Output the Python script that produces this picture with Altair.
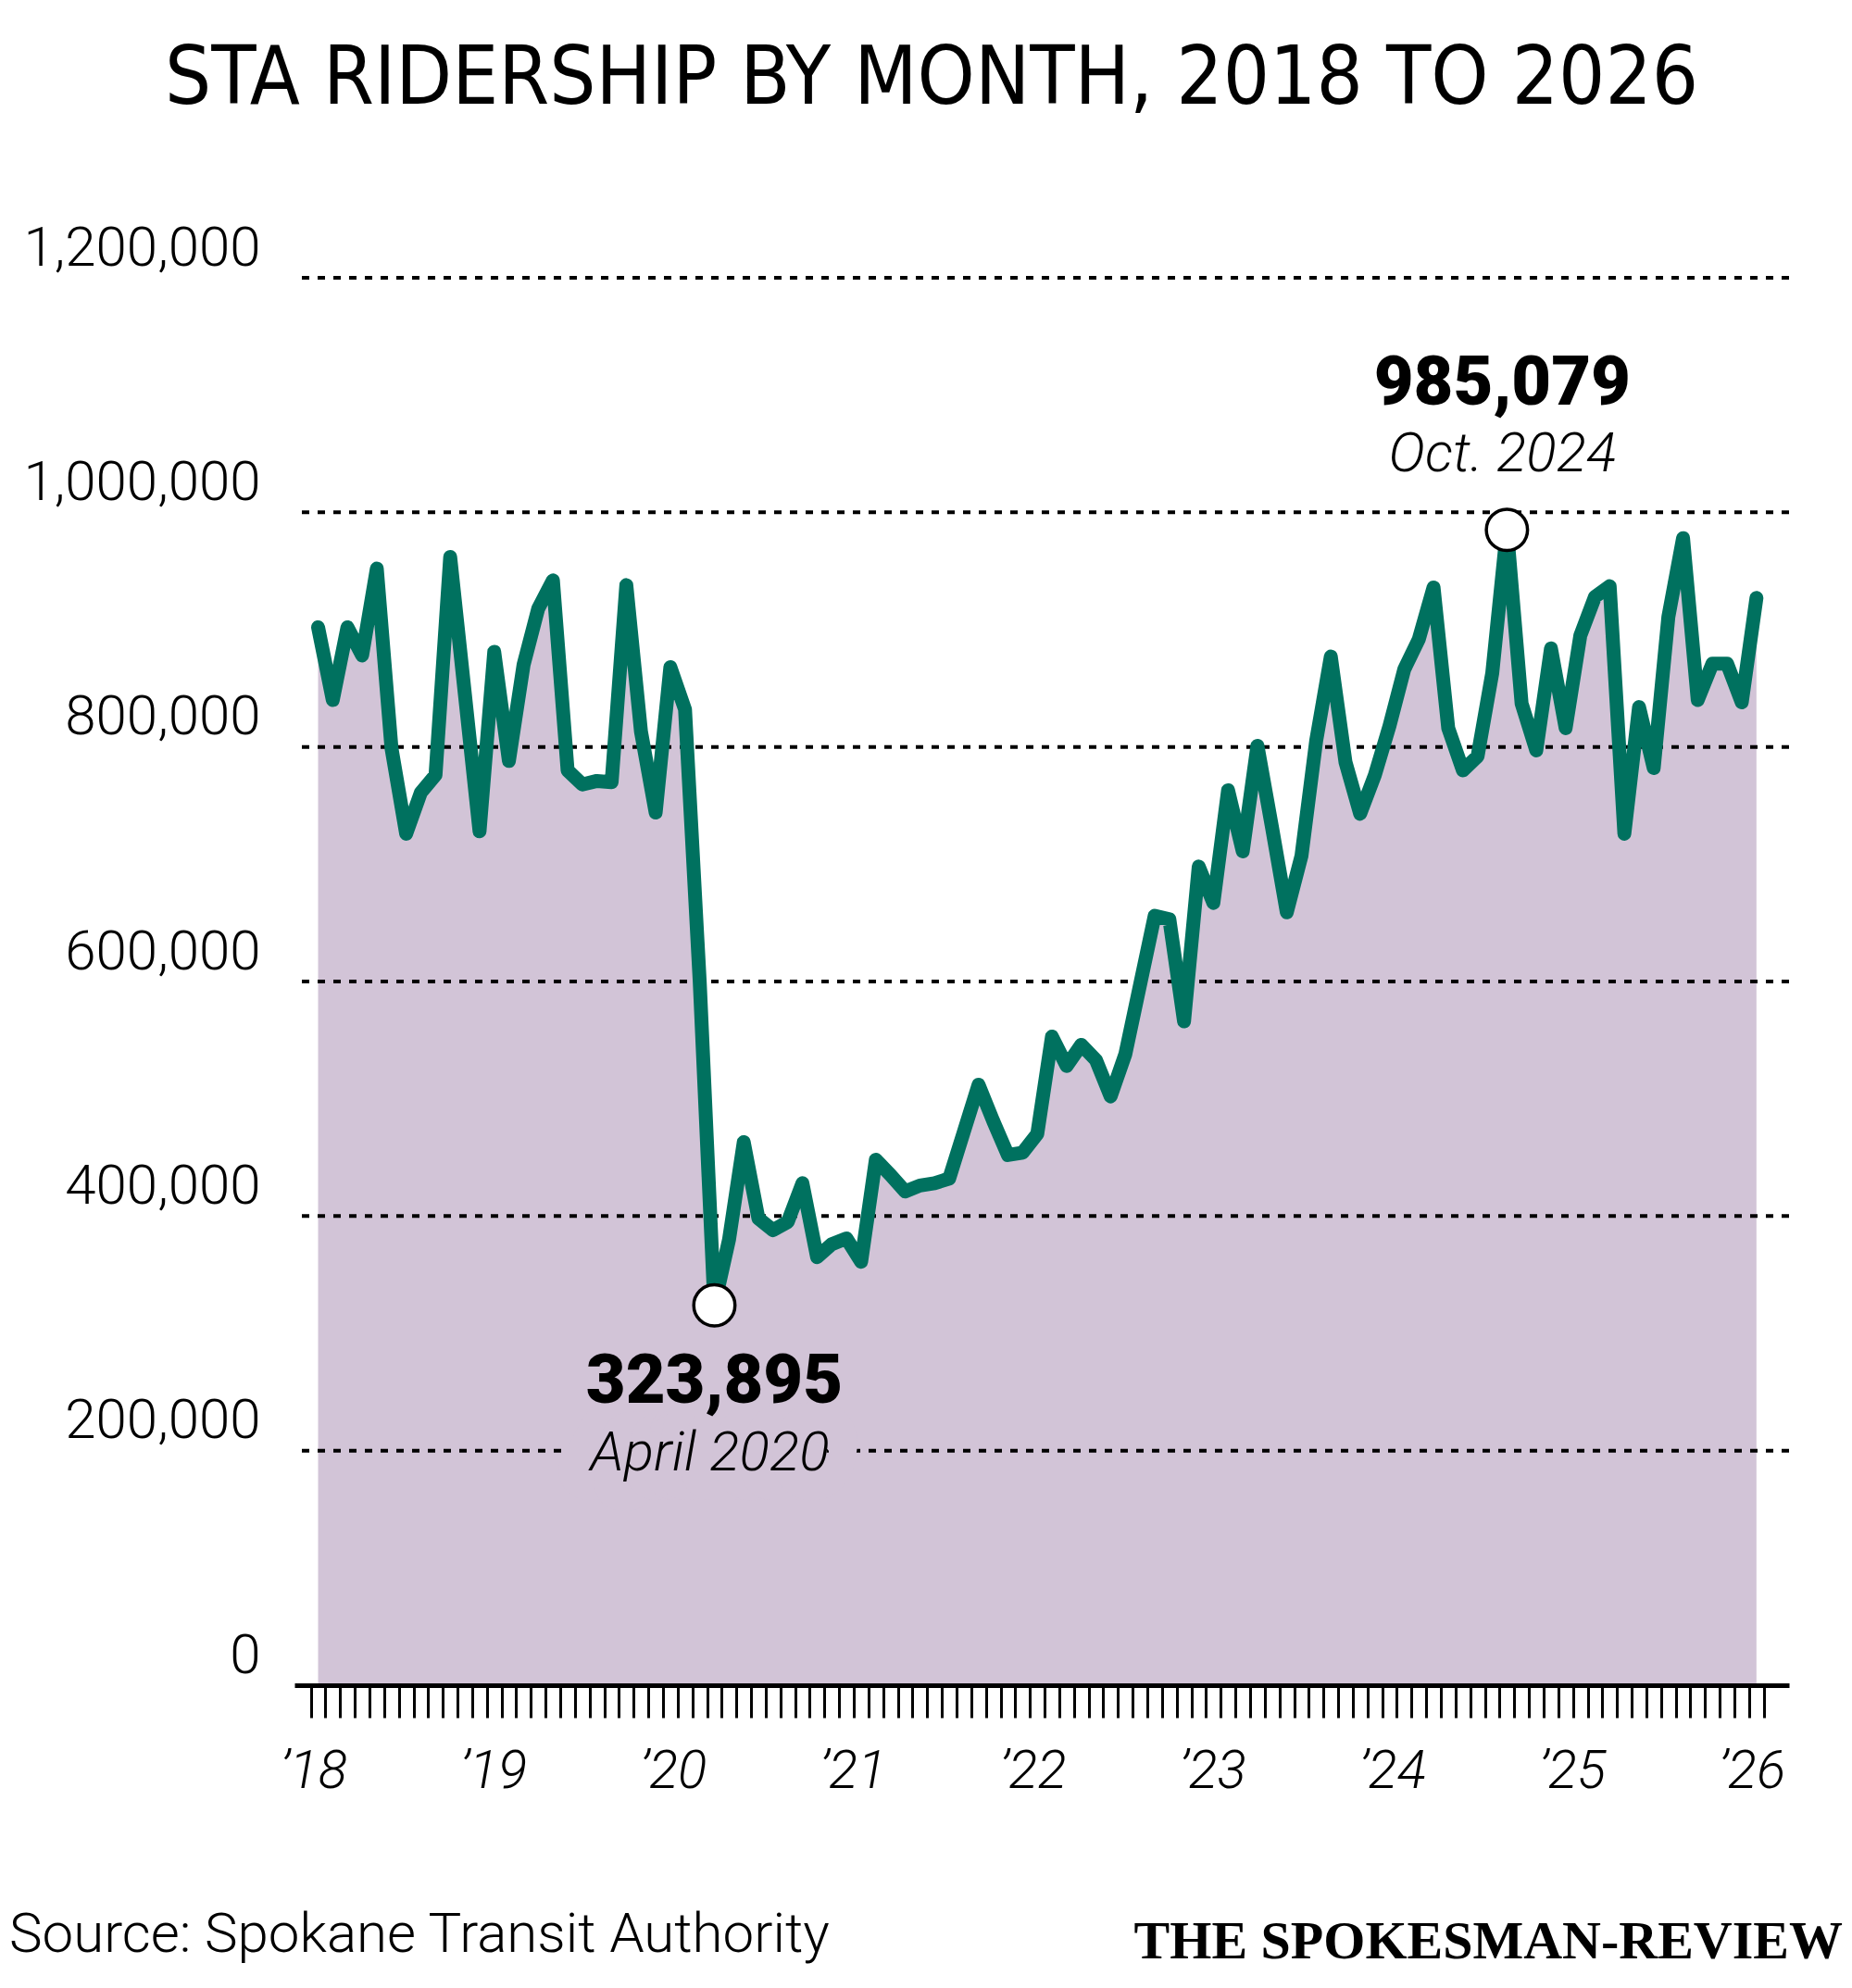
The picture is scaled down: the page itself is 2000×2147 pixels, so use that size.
import altair as alt
import pandas as pd

TITLE = "STA RIDERSHIP BY MONTH, 2018 TO 2026"
SOURCE = "Source: Spokane Transit Authority"
CREDIT = "THE SPOKESMAN-REVIEW"

# Monthly ridership, Jan 2018 (index 0) to Mar 2026
RIDERS = [
    902000, 840000, 902000, 878000, 952000, 799000, 726000, 761000, 776000, 962000, 845000, 728000,
    881000, 788000, 870000, 918000, 942000, 780000, 768000, 771000, 770000, 938000, 813000, 744000,
    868000, 832000, 600000, 323895, 380000, 463000, 398000, 388000, 395000, 428000, 365000, 376000,
    381000, 361000, 448000, 435000, 421000, 426000, 428000, 432000, 472000, 512000, 481000, 452000,
    454000, 470000, 553000, 528000, 546000, 533000, 502000, 538000, 597000, 656000, 653000, 566000,
    698000, 667000, 763000, 711000, 801000, 731000, 659000, 707000, 805000, 877000, 787000, 743000,
    776000, 818000, 866000, 892000, 936000, 816000, 780000, 792000, 863000, 985079, 837000, 797000,
    884000, 816000, 895000, 928000, 937000, 726000, 834000, 782000, 911000, 978000, 840000, 871000,
    871000, 838000, 927000,
]
MONTHS = list(range(len(RIDERS)))

Y_TICKS = [0, 200000, 400000, 600000, 800000, 1000000, 1200000]
GRID = [200000, 400000, 600000, 800000, 1000000, 1200000]
YEAR_LABELS = ["\u201918", "\u201919", "\u201920", "\u201921", "\u201922",
               "\u201923", "\u201924", "\u201925", "\u201926"]

LOW_MONTH, LOW_VALUE, LOW_TEXT, LOW_WHEN = 27, 323895, "323,895", "April 2020"
HIGH_MONTH, HIGH_VALUE, HIGH_TEXT, HIGH_WHEN = 81, 985079, "985,079", "Oct. 2024"

FILL = "#D2C4D7"
LINE = "#00715F"
W, H = 1614, 1520

df = pd.DataFrame({"m": MONTHS, "riders": RIDERS})
grid_df = pd.DataFrame({"g": GRID})
year_df = pd.DataFrame({"lab": YEAR_LABELS,
                        "pos": [k * 12.25 - 0.3 for k in range(len(YEAR_LABELS))]})
low_df = pd.DataFrame({"m": [LOW_MONTH], "riders": [LOW_VALUE],
                       "num": [LOW_TEXT], "when": [LOW_WHEN]})
high_df = pd.DataFrame({"m": [HIGH_MONTH], "riders": [HIGH_VALUE],
                        "num": [HIGH_TEXT], "when": [HIGH_WHEN]})
pts_df = pd.concat([low_df, high_df])

xs = alt.Scale(domain=[-1.61, 100.22], nice=False, zero=False)
ys = alt.Scale(domain=[0, 1200000], nice=False)
tick_vals = [m - 0.5 for m in range(len(RIDERS) + 1)]

XAXIS = alt.Axis(values=tick_vals, labels=False, grid=False, title=None,
                 tickSize=35, tickWidth=3, tickColor="black",
                 domainColor="black", domainWidth=5, zindex=1)
YAXIS = alt.Axis(values=Y_TICKS, labelExpr="format(datum.value, ',')",
                 title=None, grid=False, domain=False,
                 ticks=False, tickSize=0, labelPadding=37, labelLimit=500,
                 labelFont="Roboto", labelFontWeight=300, labelFontSize=60,
                 labelColor="black", labelAlign="right", labelBaseline="alphabetic",
                 labelOffset=-14, zindex=1)


def X(field="m:Q"):
    return alt.X(field, scale=xs, axis=XAXIS)


def Y(field="riders:Q"):
    return alt.Y(field, scale=ys, axis=YAXIS)


area = alt.Chart(df).mark_area(color=FILL, opacity=1).encode(x=X(), y=Y())

grid = alt.Chart(grid_df).mark_rule(color="black", strokeWidth=4, strokeDash=[8, 9]).encode(
    y=Y("g:Q"))

halo = alt.Chart(low_df).mark_text(
    font="Roboto", fontStyle="italic", fontWeight=300, fontSize=60,
    baseline="alphabetic", align="center", dx=-5, dy=178,
    color=FILL, stroke=FILL, strokeWidth=64, strokeJoin="round").encode(
    x=X(), y=Y(), text="when:N")

line = alt.Chart(df).mark_line(color=LINE, strokeWidth=15, strokeJoin="round",
                               strokeCap="round").encode(x=X(), y=Y())

pts = alt.Chart(pts_df).mark_point(shape="circle", filled=True, fill="white",
                                   stroke="black", strokeWidth=3.5, size=1980,
                                   opacity=1).encode(x=X(), y=Y())

num_style = dict(font="Roboto", fontWeight=900, fontSize=74, color="black",
                 baseline="alphabetic", align="center")
when_style = dict(font="Roboto", fontStyle="italic", fontWeight=300, fontSize=60,
                  color="black", baseline="alphabetic", align="center")

low_num = alt.Chart(low_df).mark_text(dy=105, **num_style).encode(x=X(), y=Y(), text="num:N")
low_when = alt.Chart(low_df).mark_text(dx=-5, dy=178, **when_style).encode(x=X(), y=Y(), text="when:N")
high_num = alt.Chart(high_df).mark_text(dx=-5, dy=-135, **num_style).encode(x=X(), y=Y(), text="num:N")
high_when = alt.Chart(high_df).mark_text(dx=-5, dy=-63, **when_style).encode(x=X(), y=Y(), text="when:N")

years = alt.Chart(year_df).mark_text(
    font="Roboto", fontStyle="italic", fontWeight=300, fontSize=58, color="black",
    baseline="alphabetic", align="center", dy=111).encode(
    x=X("pos:Q"), y=alt.datum(0, scale=ys, axis=YAXIS), text="lab:N")

title = alt.Chart(pd.DataFrame({"t": [TITLE]})).mark_text(
    font="DejaVu Sans Condensed, Liberation Sans Narrow, Liberation Sans, sans-serif",
    fontSize=88, color="black", baseline="alphabetic", align="center").encode(
    x=alt.value(688), y=alt.value(-188), text="t:N")

source = alt.Chart(pd.DataFrame({"t": [SOURCE]})).mark_text(
    font="Roboto", fontWeight=300, fontSize=60, color="black",
    baseline="alphabetic", align="left").encode(
    x=alt.value(-308), y=alt.value(1808), text="t:N")

credit = alt.Chart(pd.DataFrame({"t": [CREDIT]})).mark_text(
    font="Liberation Serif", fontWeight="bold", fontSize=58, color="black",
    baseline="alphabetic", align="right").encode(
    x=alt.value(1672), y=alt.value(1815), text="t:N")

chart = alt.layer(
    area, grid, halo, line, pts, low_num, low_when, high_num, high_when,
    years, title, source, credit
).properties(
    width=W, height=H,
    autosize=alt.AutoSizeParams(type="none"),
    padding={"left": 310, "top": 292, "right": 60, "bottom": 319},
    background="white",
).configure_view(stroke=None)

chart.save("out.html", embed_options={"renderer": "svg", "actions": False})
